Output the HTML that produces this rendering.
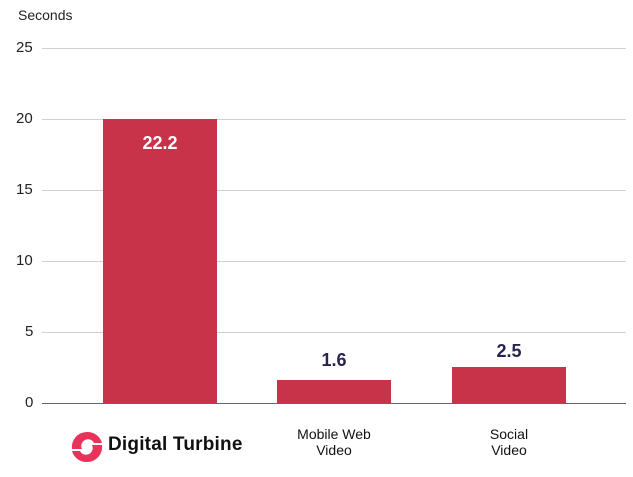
<!DOCTYPE html>
<html><head><style>
body{margin:0;width:633px;height:477px;background:#fff;font-family:"Liberation Sans",sans-serif;overflow:hidden;position:relative}
.t{position:absolute;font-size:15px;color:#222}
.g{position:absolute;left:42px;width:584px;height:1px;background:#d0d0d0}
.b{position:absolute;background:#c8334a;width:114px}
.v{position:absolute;font-weight:bold;font-size:18px;text-align:center;width:114px}
.c{position:absolute;font-size:14px;text-align:center;width:140px;line-height:16px;color:#111}
</style></head><body>
<div class="t" style="left:18px;top:7px;font-size:14px">Seconds</div>
<div class="t" style="left:16px;top:39px">25</div>
<div class="t" style="left:16px;top:110px">20</div>
<div class="t" style="left:16px;top:181px">15</div>
<div class="t" style="left:16px;top:252px">10</div>
<div class="t" style="left:25px;top:323px">5</div>
<div class="t" style="left:25px;top:394px">0</div>
<div class="g" style="top:48px"></div>
<div class="g" style="top:119px"></div>
<div class="g" style="top:190px"></div>
<div class="g" style="top:261px"></div>
<div class="g" style="top:332px"></div>
<div class="b" style="left:103px;top:119px;height:284px"></div>
<div class="b" style="left:277px;top:380px;height:23px"></div>
<div class="b" style="left:452px;top:367px;height:36px"></div>
<div class="g" style="top:403px;background:#666"></div>
<div class="v" style="left:103px;top:133px;color:#fff">22.2</div>
<div class="v" style="left:277px;top:350px;color:#2a2250">1.6</div>
<div class="v" style="left:452px;top:341px;color:#2a2250">2.5</div>
<div class="c" style="left:264px;top:426px">Mobile Web<br>Video</div>
<div class="c" style="left:439px;top:426px">Social<br>Video</div>
<svg style="position:absolute;left:70px;top:430px" width="34" height="34" viewBox="0 0 34 34">
<path d="M17 2 A15 15 0 0 0 2 19 L12 19 A6 6 0 0 1 24 13 L32 13 A15 15 0 0 0 17 2Z" fill="#e8345a"/>
<path d="M17 32 A15 15 0 0 0 32 15 L22 15 A6 6 0 0 1 10 21 L2 21 A15 15 0 0 0 17 32Z" fill="#e8345a"/>
</svg>
<div style="position:absolute;left:108px;top:434px;font-size:19px;font-weight:bold;color:#111;letter-spacing:0.2px">Digital Turbine</div>
</body></html>
